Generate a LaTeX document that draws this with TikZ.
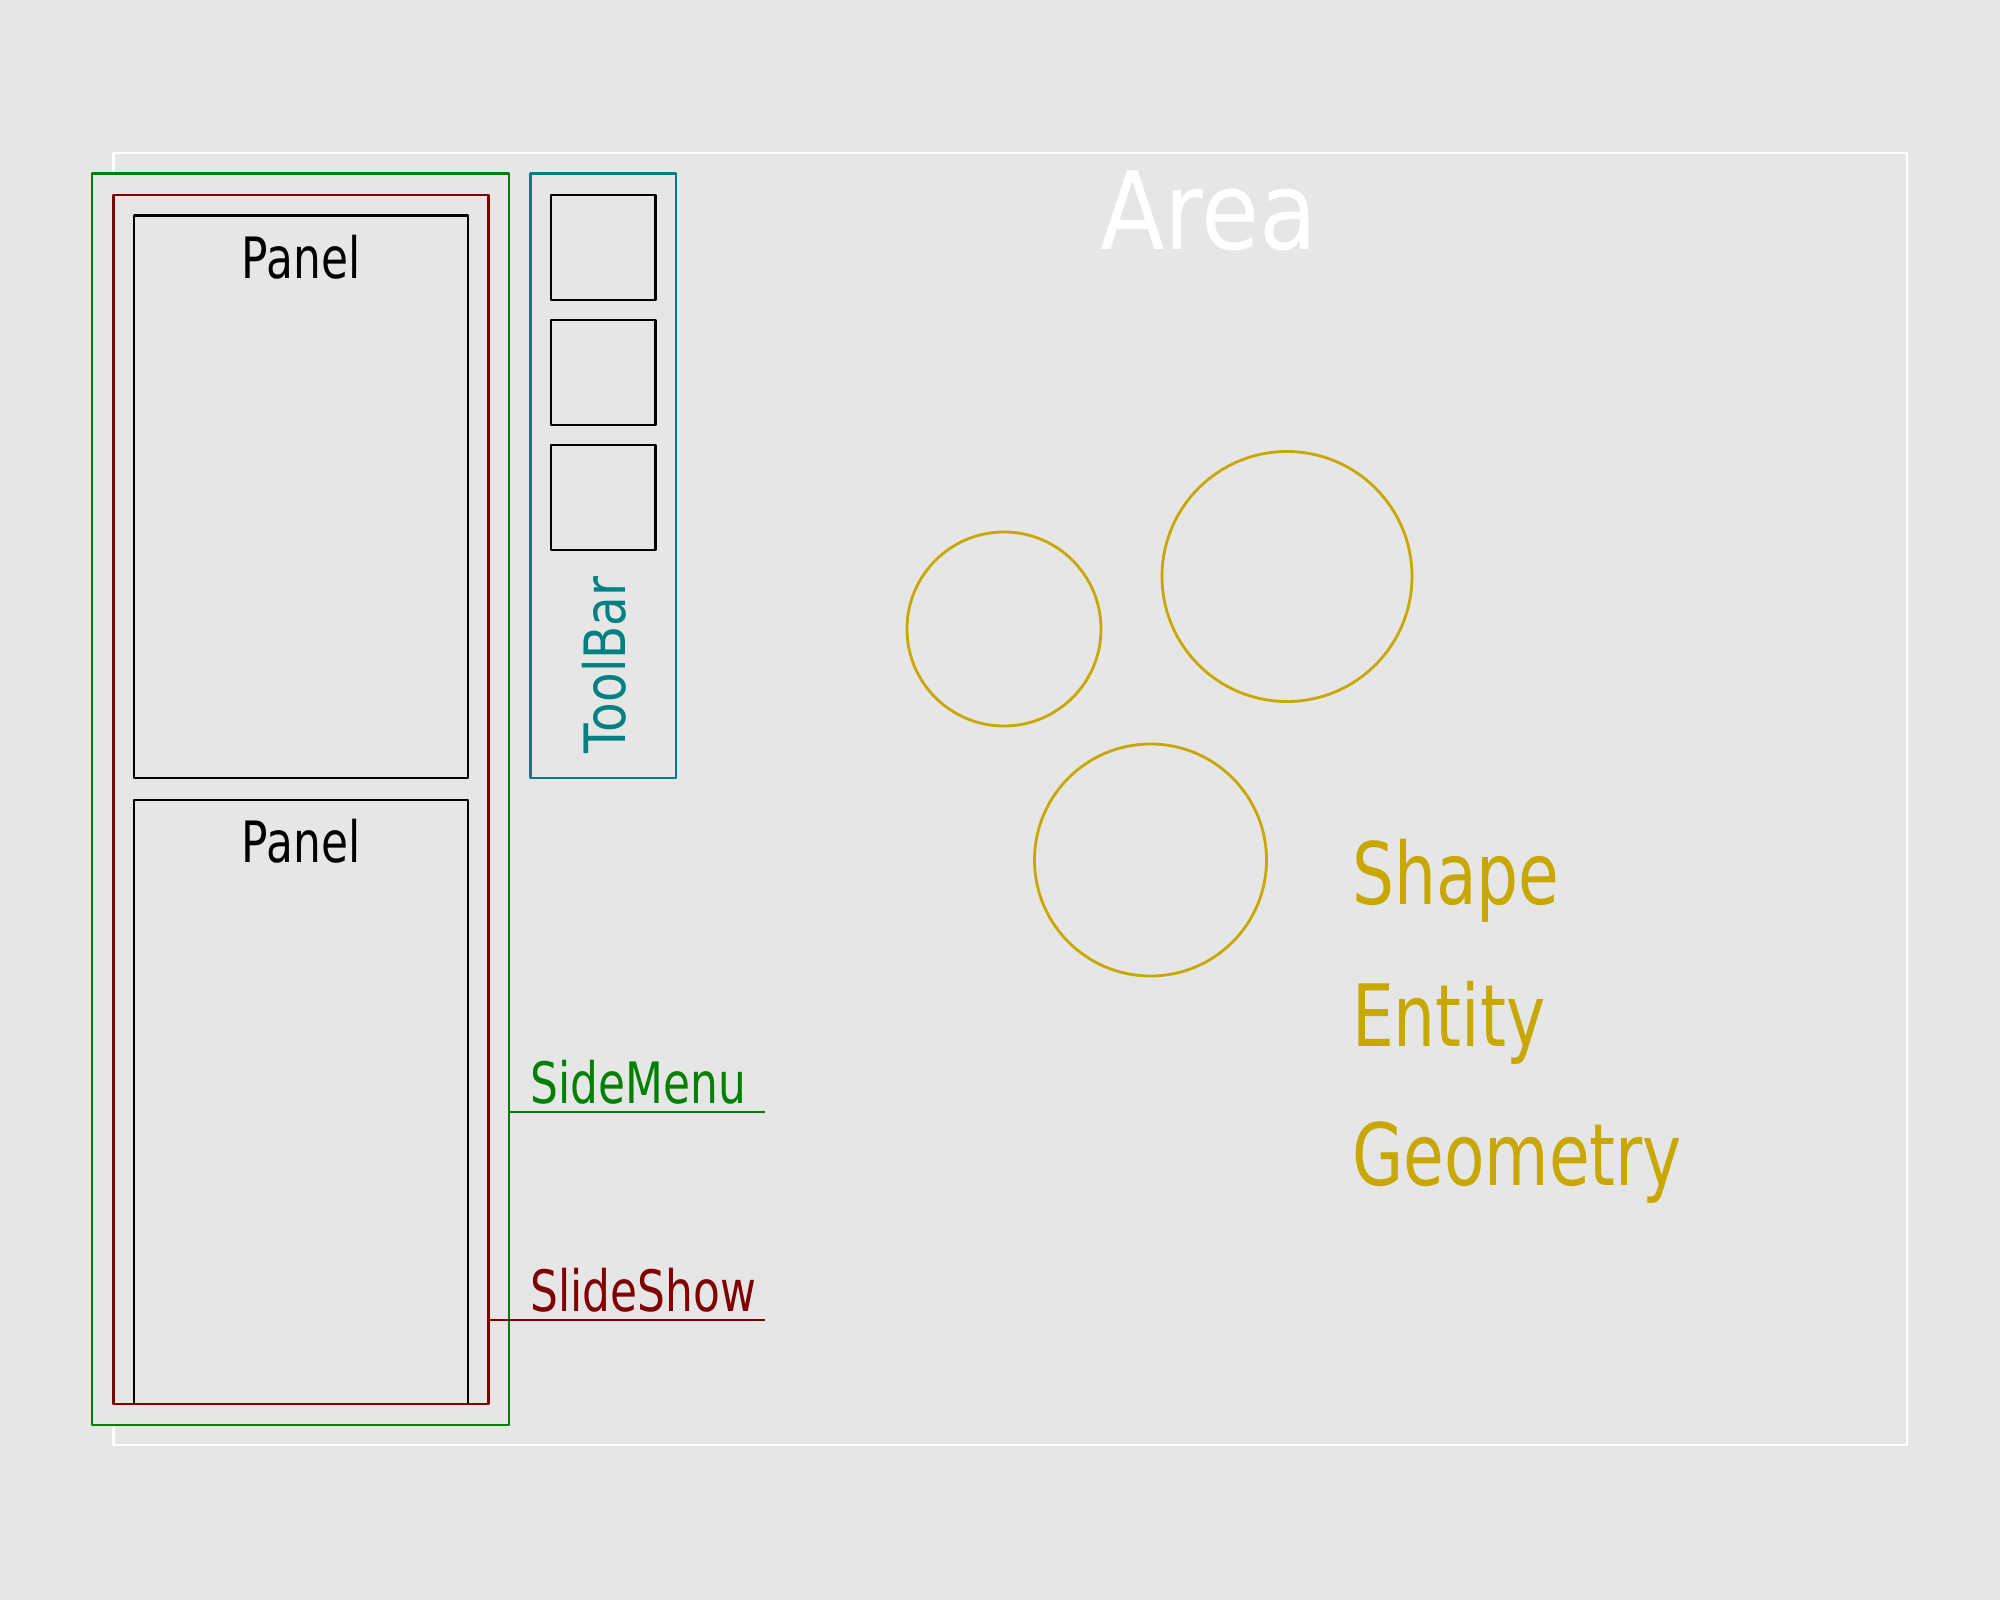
\documentclass[tikz,border=0pt]{standalone}
\usepackage{fontspec}
\setmainfont{DejaVu Sans}[FakeStretch=0.77]
\newfontfamily\areafont{DejaVu Sans}[FakeStretch=0.875]
\newfontfamily\tbfont{DejaVu Sans}[FakeStretch=0.85]
\definecolor{bg}{RGB}{230,230,230}
\definecolor{smgreen}{RGB}{0,128,0}
\definecolor{ssred}{RGB}{128,0,0}
\definecolor{tbteal}{RGB}{0,128,128}
\definecolor{shgold}{RGB}{200,168,0}
\begin{document}
\begin{tikzpicture}[x=1pt,y=-1pt,
  box/.style={draw, line width=2.8pt, inner sep=0pt, outer sep=0pt, anchor=north west, line join=round},
  ring/.style={draw=shgold, line width=2.8pt, circle, inner sep=0pt, outer sep=0pt},
  conn/.style={line width=2.8pt},
  lbl/.style={inner sep=0pt, outer sep=0pt, font=\fontsize{57}{57}\selectfont},
  biglbl/.style={inner sep=0pt, outer sep=0pt, text=shgold, anchor=base west, font=\fontsize{86}{86}\selectfont}]
\fill[bg] (0,0) rectangle (2000,1600);
\useasboundingbox (0,0) rectangle (2000,1600);
% Area
\node[box, draw=white, minimum width=1793.5pt, minimum height=1292pt] (area) at (113.5,153) {};
\node[inner sep=0pt, text=white, anchor=base, font=\areafont\fontsize{108}{108}\selectfont] (arealbl) at (1209,249) {Area};
% SideMenu
\node[box, draw=smgreen, fill=bg, minimum width=417pt, minimum height=1251.5pt] (sidemenu) at (92,173.5) {};
% Panels
\node[box, draw=black, minimum width=334pt, minimum height=562.5pt] (panel1) at (134,215.5) {};
\node[box, draw=black, minimum width=334pt, minimum height=604pt] (panel2) at (134,800) {};
\node[lbl, anchor=base] (panel1lbl) at (301,278) {Panel};
\node[lbl, anchor=base] (panel2lbl) at (301,862) {Panel};
% SlideShow
\node[box, draw=ssred, minimum width=375pt, minimum height=1209pt] (slideshow) at (113.5,195) {};
% ToolBar
\node[box, draw=tbteal, minimum width=145.4pt, minimum height=604.5pt] (toolbar) at (530.6,173.5) {};
\node[box, draw=black, minimum width=104.6pt, minimum height=105pt] (tool1) at (551,195) {};
\node[box, draw=black, minimum width=104.6pt, minimum height=105pt] (tool2) at (551,320) {};
\node[box, draw=black, minimum width=104.6pt, minimum height=105pt] (tool3) at (551,445) {};
\node[lbl, text=tbteal, rotate=90, anchor=base, font=\tbfont\fontsize{57}{57}\selectfont] (toolbarlbl) at (625,665) {ToolBar};
% labels with underlines
\node[lbl, text=smgreen, anchor=base west] (sidemenulbl) at (530.6,1103) {SideMenu};
\coordinate (smend) at (765,1112);
\draw[conn, smgreen] (sidemenu.east |- smend) -- (smend);
\node[lbl, text=ssred, anchor=base west] (slideshowlbl) at (530.6,1311) {SlideShow};
\coordinate (ssend) at (765,1320);
\draw[conn, ssred] (slideshow.east |- ssend) -- (ssend);
% Shapes
\node[ring, minimum size=194pt] (c1) at (1004,629) {};
\node[ring, minimum size=250pt] (c2) at (1287,576.5) {};
\node[ring, minimum size=232pt] (c3) at (1150.5,860) {};
\node[biglbl] (shape) at (1352,904) {Shape};
\node[biglbl] (entity) at (1352,1046) {Entity};
\node[biglbl] (geometry) at (1352,1185) {Geometry};
\end{tikzpicture}
\end{document}
